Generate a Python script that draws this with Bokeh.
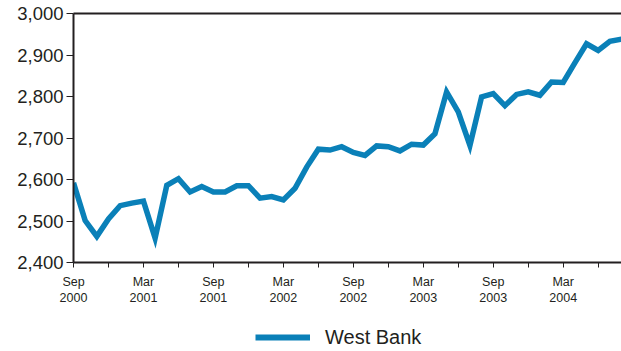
from bokeh.plotting import figure
from bokeh.layouts import column
from bokeh.models import (Range1d, FixedTicker, LinearAxis, NumeralTickFormatter,
                          Legend, LegendItem, ColumnDataSource)
from bokeh.embed import file_html
from bokeh.resources import INLINE

# Monthly values, Sep 2000 .. Aug 2004
months = list(range(48))
west_bank = [2592, 2501, 2463, 2505, 2537, 2543, 2548, 2459, 2586, 2602, 2570, 2583,
             2570, 2570, 2585, 2585, 2555, 2559, 2551, 2579, 2630, 2673, 2671, 2679,
             2665, 2658, 2681, 2679, 2669, 2685, 2683, 2710, 2811, 2763, 2682, 2799,
             2807, 2778, 2805, 2811, 2803, 2835, 2834, 2881, 2927, 2911, 2933, 2938]
tick_pos = [0, 6, 12, 18, 24, 30, 36, 42]
tick_labels = ["Sep\n2000", "Mar\n2001", "Sep\n2001", "Mar\n2002",
               "Sep\n2002", "Mar\n2003", "Sep\n2003", "Mar\n2004"]
minor_pos = [3, 9, 15, 21, 27, 33, 39, 45]
y_ticks = [2400, 2500, 2600, 2700, 2800, 2900, 3000]
series_name = "West Bank"

FONT = "Liberation Sans"
DARK = "#231f20"
BLUE = "#0a80b8"
LINE_W = 5.5

p = figure(width=621, height=308, output_backend="svg", toolbar_location=None,
           x_range=Range1d(0, 47), y_range=Range1d(2400, 3000),
           min_border_left=73, min_border_right=0, min_border_top=13,
           min_border_bottom=45, x_axis_type=None)
p.outline_line_color = None
p.grid.visible = False
p.background_fill_color = "white"
p.border_fill_color = "white"

p.line(months, west_bank, line_color=BLUE, line_width=LINE_W, line_join="miter")

# y axis
ya = p.yaxis[0]
ya.ticker = FixedTicker(ticks=y_ticks)
ya.formatter = NumeralTickFormatter(format="0,0")
ya.axis_line_color = DARK
ya.axis_line_width = 2
ya.major_tick_line_color = DARK
ya.major_tick_line_width = 1
ya.major_tick_out = 7
ya.major_tick_in = 0
ya.minor_tick_line_color = None
ya.major_label_text_font = FONT
ya.major_label_text_font_size = "18.5px"
ya.major_label_text_color = DARK
ya.major_label_standoff = 3

# x axis
xa = LinearAxis(ticker=FixedTicker(ticks=tick_pos, minor_ticks=minor_pos))
xa.major_label_overrides = {k: v for k, v in zip(tick_pos, tick_labels)}
xa.axis_line_color = DARK
xa.axis_line_width = 2
xa.major_tick_line_color = DARK
xa.minor_tick_line_color = DARK
xa.major_tick_out = 5
xa.major_tick_in = 0
xa.minor_tick_out = 5
xa.minor_tick_in = 0
xa.major_label_text_font = FONT
xa.major_label_text_font_size = "12.5px"
xa.major_label_text_color = DARK
xa.major_label_standoff = 7
p.add_layout(xa, "below")

# top border line
ta = LinearAxis(ticker=FixedTicker(ticks=[]))
ta.axis_line_color = DARK
ta.axis_line_width = 2
ta.major_tick_line_color = None
ta.minor_tick_line_color = None
ta.major_label_text_font_size = "0px"
p.add_layout(ta, "above")

# legend strip below the chart
lg = figure(width=621, height=43, output_backend="svg", toolbar_location=None,
            x_range=Range1d(0, 1), y_range=Range1d(0, 1),
            min_border_left=0, min_border_right=0, min_border_top=0,
            min_border_bottom=0, x_axis_type=None, y_axis_type=None)
lg.outline_line_color = None
lg.grid.visible = False
lg.border_fill_color = "white"
sample = lg.line("x", "y",
                 source=ColumnDataSource(dict(x=[float("nan")], y=[float("nan")])),
                 line_color=BLUE, line_width=LINE_W + 0.5)
legend = Legend(items=[LegendItem(label=series_name, renderers=[sample])],
                location=(182, 2), orientation="horizontal",
                glyph_width=55, glyph_height=24, label_height=24,
                label_standoff=15, padding=0, margin=0, spacing=0,
                border_line_color=None, background_fill_alpha=0,
                label_text_font=FONT, label_text_font_size="20px",
                label_text_color=DARK)
lg.add_layout(legend, "center")

layout = column(p, lg, spacing=0)
open("out.html", "w").write(file_html(layout, INLINE))
